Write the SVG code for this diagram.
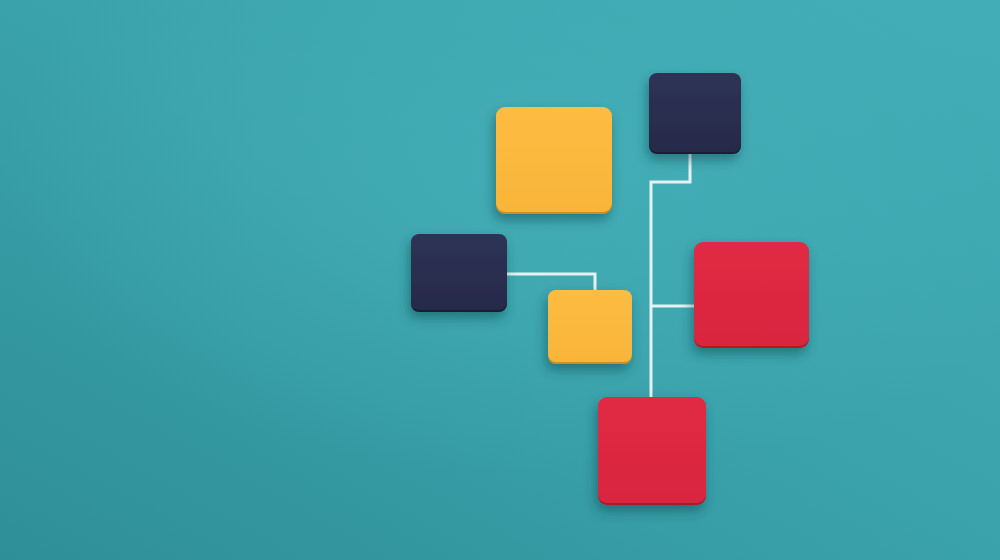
<svg xmlns="http://www.w3.org/2000/svg" width="1000" height="560" viewBox="0 0 1000 560">
  <defs>
    <linearGradient id="bg" x1="0" y1="1" x2="1" y2="0">
      <stop offset="0" stop-color="#2f8f98"/>
      <stop offset="0.5" stop-color="#3aa2ab"/>
      <stop offset="1" stop-color="#42adb6"/>
    </linearGradient>
    <radialGradient id="glow" cx="0.55" cy="0.3" r="0.55">
      <stop offset="0" stop-color="#48b4bd" stop-opacity="0.55"/>
      <stop offset="1" stop-color="#48b4bd" stop-opacity="0"/>
    </radialGradient>
    <filter id="shadow" x="-30%" y="-30%" width="160%" height="170%">
      <feDropShadow dx="-2" dy="6" stdDeviation="6" flood-color="#0b3a40" flood-opacity="0.45"/>
    </filter>
    <linearGradient id="yel" x1="0" y1="0" x2="0" y2="1">
      <stop offset="0" stop-color="#fdbc42"/>
      <stop offset="1" stop-color="#f8b53a"/>
    </linearGradient>
    <linearGradient id="nav" x1="0" y1="0" x2="0" y2="1">
      <stop offset="0" stop-color="#2e3255"/>
      <stop offset="1" stop-color="#272a4a"/>
    </linearGradient>
    <linearGradient id="red" x1="0" y1="0" x2="0" y2="1">
      <stop offset="0" stop-color="#e02a44"/>
      <stop offset="1" stop-color="#d9263e"/>
    </linearGradient>
  </defs>
  <style>
    .wire { fill: none; stroke: #e6f1f2; stroke-width: 3; stroke-linejoin: miter; }
    .box { filter: url(#shadow); }
    .edge-y { fill: #c98e26; }
    .edge-n { fill: #1a1c33; }
    .edge-r { fill: #a81a2e; }
  </style>
  <rect width="1000" height="560" fill="url(#bg)"/>
  <rect width="1000" height="560" fill="url(#glow)"/>

  <g id="connectors">
    <polyline class="wire" points="690,153 690,182 651,182 651,397"/>
    <polyline class="wire" points="651,306 694,306"/>
    <polyline class="wire" points="507,274 595,274 595,290"/>
  </g>

  <g id="node-yellow-large" class="box">
    <rect class="edge-y" x="496" y="109" width="116" height="105" rx="9"/>
    <rect x="496" y="107" width="116" height="105" rx="9" fill="url(#yel)"/>
  </g>
  <g id="node-navy-top" class="box">
    <rect class="edge-n" x="649" y="75" width="92" height="79" rx="8"/>
    <rect x="649" y="73" width="92" height="79" rx="8" fill="url(#nav)"/>
  </g>
  <g id="node-navy-left" class="box">
    <rect class="edge-n" x="411" y="236" width="96" height="76" rx="8"/>
    <rect x="411" y="234" width="96" height="76" rx="8" fill="url(#nav)"/>
  </g>
  <g id="node-yellow-small" class="box">
    <rect class="edge-y" x="548" y="292" width="84" height="72" rx="8"/>
    <rect x="548" y="290" width="84" height="72" rx="8" fill="url(#yel)"/>
  </g>
  <g id="node-red-right" class="box">
    <rect class="edge-r" x="694" y="244" width="115" height="104" rx="9"/>
    <rect x="694" y="242" width="115" height="104" rx="9" fill="url(#red)"/>
  </g>
  <g id="node-red-bottom" class="box">
    <rect class="edge-r" x="598" y="399" width="108" height="106" rx="9"/>
    <rect x="598" y="397" width="108" height="106" rx="9" fill="url(#red)"/>
  </g>
</svg>
